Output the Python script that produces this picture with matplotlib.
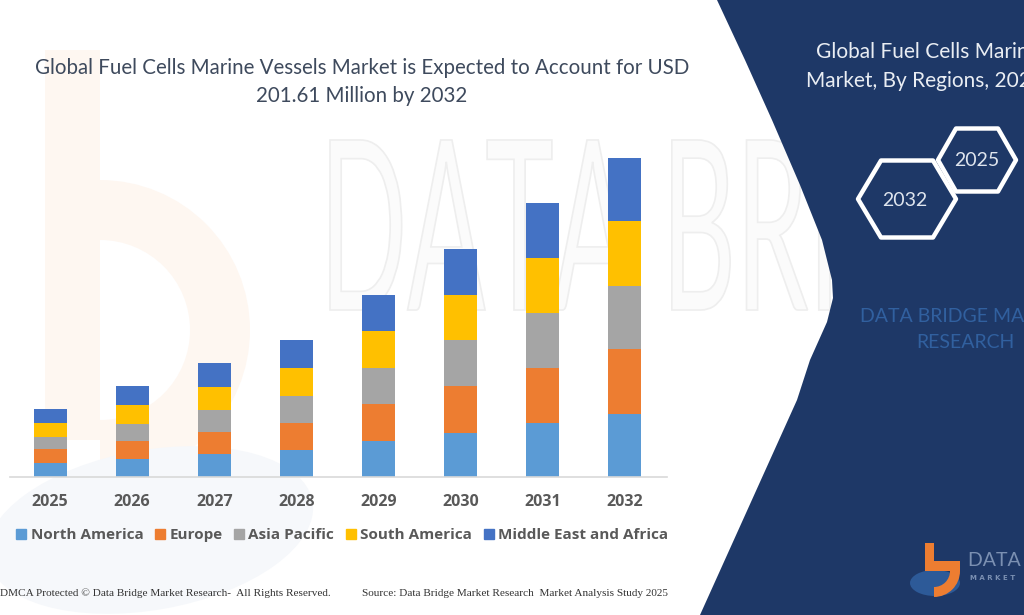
import numpy as np
import matplotlib
matplotlib.use("Agg")
import matplotlib.pyplot as plt
from matplotlib.patches import Polygon, Rectangle, Wedge, Ellipse, PathPatch
from matplotlib.lines import Line2D
from matplotlib.textpath import TextPath
from matplotlib.font_manager import FontProperties
from matplotlib.transforms import Affine2D

# market size by region, USD million
YEARS = ["2025", "2026", "2027", "2028", "2029", "2030", "2031", "2032"]
REGIONS = ["North America", "Europe", "Asia Pacific", "South America",
           "Middle East and Africa"]
north_america = [8.8, 11.4, 14.5, 17.1, 22.8, 27.8, 34.1, 39.8]
europe        = [8.8, 11.4, 13.9, 17.1, 23.4, 29.7, 34.8, 41.1]
asia_pacific  = [7.6, 10.7, 13.9, 17.1, 22.8, 29.1, 34.8, 39.8]
south_america = [8.8, 12.0, 14.5, 17.7, 23.4, 28.4, 34.8, 41.1]
middle_east   = [8.8, 12.0, 15.2, 17.7, 22.8, 29.1, 34.8, 39.8]
SERIES = [north_america, europe, asia_pacific, south_america, middle_east]
COLORS = ["#5b9bd5", "#ed7d31", "#a5a5a5", "#ffc000", "#4472c4"]

NAVY = "#1e3867"
TITLE_COL = "#3e4a5d"
TICK_COL = "#595959"

W, H = 1024, 615
fig = plt.figure(figsize=(W / 100, H / 100), dpi=100)
fig.patch.set_facecolor("white")

# background layer in pixel coordinates (y pointing down)
bg = fig.add_axes([0, 0, 1, 1], zorder=0)
bg.set_xlim(0, W)
bg.set_ylim(H, 0)
bg.axis("off")

# faint watermark
bg.add_patch(Rectangle((45, 50), 55, 390, color="#fef7f1", lw=0, zorder=0))
bg.add_patch(Wedge((100, 330), 150, -90, 90, width=60, color="#fef7f1",
                   lw=0, zorder=0))
bg.add_patch(Ellipse((150, 530), 330, 160, angle=-10, color="#f6f8fb",
                     lw=0, zorder=0))
wm = TextPath((0, 0), "DATA BRIDGE", size=1,
              prop=FontProperties(family="Lato"))
ext = TextPath((0, 0), "DATA BRI", size=1,
               prop=FontProperties(family="Lato")).get_extents()
sx = 500 / ext.width
sy = 170 / ext.height
wm_tr = Affine2D().scale(sx, -sy).translate(330 - ext.x0 * sx, 310)
bg.add_patch(PathPatch(wm_tr.transform_path(wm), facecolor="#fbfbfb",
                       edgecolor="#eeeeee", lw=1.2, zorder=0))

# navy right panel with curved edge
edge = [(717, 0), (745, 60), (772, 120), (800, 185), (822, 240),
        (832, 280), (833, 298), (827, 322), (810, 360), (797, 400),
        (700, 615)]
bg.add_patch(Polygon(edge + [(W, H), (W, 0)], closed=True, color=NAVY,
                     lw=0, zorder=1))


def hexagon(cx, cy, w, h, top):
    return [(cx - w / 2, cy), (cx - top / 2, cy - h / 2),
            (cx + top / 2, cy - h / 2), (cx + w / 2, cy),
            (cx + top / 2, cy + h / 2), (cx - top / 2, cy + h / 2)]


bg.add_patch(Polygon(hexagon(977, 160, 78, 63, 42), closed=True,
                     facecolor=NAVY, edgecolor="white", lw=3.2,
                     joinstyle="round", zorder=2))
bg.add_patch(Polygon(hexagon(907, 199, 98, 77, 52), closed=True,
                     facecolor=NAVY, edgecolor="white", lw=3.2,
                     joinstyle="round", zorder=3))
bg.text(977, 160, "2025", fontsize=14, color="#dfe5ee", ha="center",
        va="center", family="Lato", zorder=4)
bg.text(905, 200, "2032", fontsize=14, color="#dfe5ee", ha="center",
        va="center", family="Lato", zorder=4)

bg.text(816, 52, "Global Fuel Cells Marine Vessels", fontsize=15,
        color="#e9edf3", ha="left", va="center", family="Lato", zorder=4)
bg.text(806, 81, "Market, By Regions, 2025 to 2032", fontsize=15,
        color="#e9edf3", ha="left", va="center", family="Lato", zorder=4)
bg.text(860, 316, "DATA BRIDGE MARKET", fontsize=14, color="#31609f",
        ha="left", va="center", family="Lato", zorder=4)
bg.text(965, 343, "RESEARCH", fontsize=14, color="#31609f",
        ha="center", va="center", family="Lato", zorder=4)

# logo, bottom right
bg.add_patch(Ellipse((935, 583), 50, 26, color="#2d5a98", lw=0, zorder=4))
bg.add_patch(Rectangle((925, 543), 9, 28, color="#ed7d31", lw=0, zorder=5))
bg.add_patch(Wedge((934, 571), 26, 0, 90, width=10, color="#ed7d31",
                   lw=0, zorder=5))
bg.add_patch(Rectangle((934, 561), 26, 10, color="#ed7d31", lw=0, zorder=5))
bg.text(968, 561, "DATA B", fontsize=14, color="#7b90b2", ha="left",
        va="center", family="Lato", zorder=5)
bg.text(970, 578, "M A R K E T", fontsize=5, color="#7b90b2", ha="left",
        va="center", family="DejaVu Sans", weight="bold", zorder=5)

# title
bg.text(362, 68, "Global Fuel Cells Marine Vessels Market is Expected to "
        "Account for USD", fontsize=14.8, color=TITLE_COL, ha="center",
        va="center", family="Lato", zorder=4)
bg.text(362, 96, "201.61 Million by 2032", fontsize=14.8, color=TITLE_COL,
        ha="center", va="center", family="Lato", zorder=4)

# footer
bg.text(0, 593, "DMCA Protected \u00a9 Data Bridge Market Research-  All "
        "Rights Reserved.", fontsize=8.1, color="#333333", ha="left",
        va="center", family="Liberation Serif", zorder=4)
bg.text(362, 593, "Source: Data Bridge Market Research  Market Analysis "
        "Study 2025", fontsize=8.1, color="#333333", ha="left",
        va="center", family="Liberation Serif", zorder=4)

# stacked bars
ax = fig.add_axes([10 / W, 1 - 477 / H, 657 / W, 337 / H], zorder=2)
ax.patch.set_alpha(0)
x = np.arange(len(YEARS))
bottom = np.zeros(len(YEARS))
for vals, col, name in zip(SERIES, COLORS, REGIONS):
    ax.bar(x, vals, width=0.4, bottom=bottom, color=col, label=name,
           edgecolor="none")
    bottom += np.array(vals)
ax.set_xlim(-0.49, 7.52)
ax.set_ylim(0, 213)
for side in ["top", "right", "left"]:
    ax.spines[side].set_visible(False)
ax.spines["bottom"].set_color("#d9d9d9")
ax.spines["bottom"].set_linewidth(1.2)
ax.set_yticks([])
ax.set_xticks(x)
ax.set_xticklabels(YEARS, fontsize=11.5, fontweight="bold", color=TICK_COL,
                   family="Open Sans")
ax.tick_params(axis="x", length=0, pad=12)

handles = [Line2D([], [], marker="s", linestyle="none", markersize=7,
                  color=c) for c in COLORS]
leg = fig.legend(handles, REGIONS, loc="center", ncol=5,
                 bbox_to_anchor=(341 / W, 1 - 535 / H), frameon=False,
                 handletextpad=0.1, columnspacing=0.6, handlelength=1.0,
                 prop={"family": "Open Sans", "weight": "bold", "size": 11})
for t in leg.get_texts():
    t.set_color(TICK_COL)

fig.savefig("out.png", dpi=100)
